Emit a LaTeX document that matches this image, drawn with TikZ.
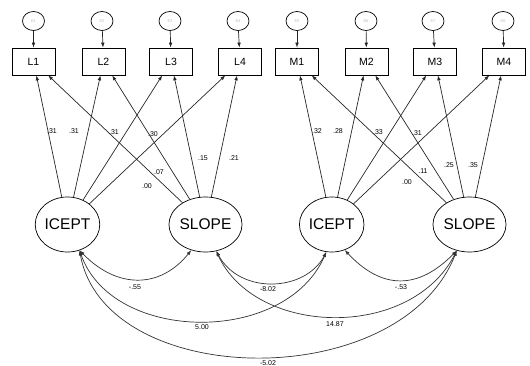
\documentclass[tikz,border=0pt]{standalone}
\usepackage{fontspec}
\setmainfont{Liberation Sans}
\usetikzlibrary{arrows.meta,shapes.geometric}

\begin{document}
\begin{tikzpicture}[x=1pt, y=-1pt, line width=0.7pt,
  obs/.style={draw, rectangle, minimum width=43pt, minimum height=27pt,
              inner sep=0pt, font=\fontsize{10.5}{12}\selectfont},
  err/.style={draw, ellipse, minimum width=22pt, minimum height=19pt,
              inner sep=0pt, font=\fontsize{4}{5}\selectfont, text=gray!55},
  lat/.style={draw, ellipse, minimum width=62pt, minimum height=55pt,
              inner sep=0pt, font=\fontsize{15.5}{17}\selectfont},
  load/.style={-{Latex[length=5pt,width=3.6pt]}, black!85},
  cov/.style={{Latex[length=5pt,width=3.6pt]}-{Latex[length=5pt,width=3.6pt]}, black!80},
  est/.style={font=\fontsize{7}{8}\selectfont, inner sep=0pt}]

\useasboundingbox (0,0) rectangle (530,366);

% indicators
\node[obs] (L1) at (33.5,61.5) {L1};
\node[obs] (L2) at (103.5,61.5) {L2};
\node[obs] (L3) at (171,61.5) {L3};
\node[obs] (L4) at (240,61.5) {L4};
\node[obs] (M1) at (297,61.5) {M1};
\node[obs] (M2) at (366.5,61.5) {M2};
\node[obs] (M3) at (435,61.5) {M3};
\node[obs] (M4) at (504,61.5) {M4};

% residuals
\node[err] (e1) at (33.5,21) {E1};
\node[err] (e2) at (102,21) {E2};
\node[err] (e3) at (170,21) {E3};
\node[err] (e4) at (238,21) {E4};
\node[err] (e5) at (297,21) {E5};
\node[err] (e6) at (366,21) {E6};
\node[err] (e7) at (433,21) {E7};
\node[err] (e8) at (503,21) {E8};

\draw[load] (e1) -- (L1);
\draw[load] (e2) -- (L2);
\draw[load] (e3) -- (L3);
\draw[load] (e4) -- (L4);
\draw[load] (e5) -- (M1);
\draw[load] (e6) -- (M2);
\draw[load] (e7) -- (M3);
\draw[load] (e8) -- (M4);

% growth factors
\node[lat] (icept1) at (67.5,224.5) {ICEPT};
\node[lat] (slope1) at (205.5,224.5) {SLOPE};
\node[lat] (icept2) at (331.7,224.5) {ICEPT};
\node[lat] (slope2) at (469.5,224.5) {SLOPE};

% loadings, first block
\draw[load] (icept1) -- (L1);
\draw[load] (icept1) -- (L2);
\draw[load] (icept1) -- (L3);
\draw[load] (icept1) -- (L4);
\draw[load] (slope1) -- (L1);
\draw[load] (slope1) -- (L2);
\draw[load] (slope1) -- (L3);
\draw[load] (slope1) -- (L4);

\node[est] (a1) at (52,131) {.31};
\node[est] (a2) at (74,131) {.31};
\node[est] (a3) at (114,132) {.31};
\node[est] (a4) at (153,134) {.30};
\node[est] (b1) at (147,186) {.00};
\node[est] (b2) at (159,172) {.07};
\node[est] (b3) at (203,158) {.15};
\node[est] (b4) at (234,158) {.21};

% loadings, second block
\draw[load] (icept2) -- (M1);
\draw[load] (icept2) -- (M2);
\draw[load] (icept2) -- (M3);
\draw[load] (icept2) -- (M4);
\draw[load] (slope2) -- (M1);
\draw[load] (slope2) -- (M2);
\draw[load] (slope2) -- (M3);
\draw[load] (slope2) -- (M4);

\node[est] (c1) at (317,131) {.32};
\node[est] (c2) at (338,131) {.28};
\node[est] (c3) at (378,132) {.33};
\node[est] (c4) at (417,133) {.31};
\node[est] (d1) at (407,182) {.00};
\node[est] (d2) at (423,171) {.11};
\node[est] (d3) at (449,165) {.25};
\node[est] (d4) at (473,165) {.35};

% covariances
\draw[cov] (icept1.-65) .. controls (117,289) and (160,289) .. (slope1.-119);
\draw[cov] (icept2.-63) .. controls (382,290) and (418,290) .. (slope2.-116);
\draw[cov] (slope1.-68) .. controls (240,295) and (305,292) .. (icept2.-101);
\draw[cov] (icept1.-65) .. controls (112,343) and (285,346) .. (icept2.-101);
\draw[cov] (slope1.-68) .. controls (255,336) and (410,341) .. (slope2.-116);
\draw[cov] (icept1.-65) .. controls (105,390) and (400,395) .. (slope2.-116);

\node[est] (k1) at (135,287) {-.55};
\node[est] (k2) at (401,287) {-.53};
\node[est] (k3) at (268,289) {-8.02};
\node[est] (k4) at (202,327) {5.00};
\node[est] (k5) at (335,324) {14.87};
\node[est] (k6) at (268,363) {-5.02};

\end{tikzpicture}
\end{document}
